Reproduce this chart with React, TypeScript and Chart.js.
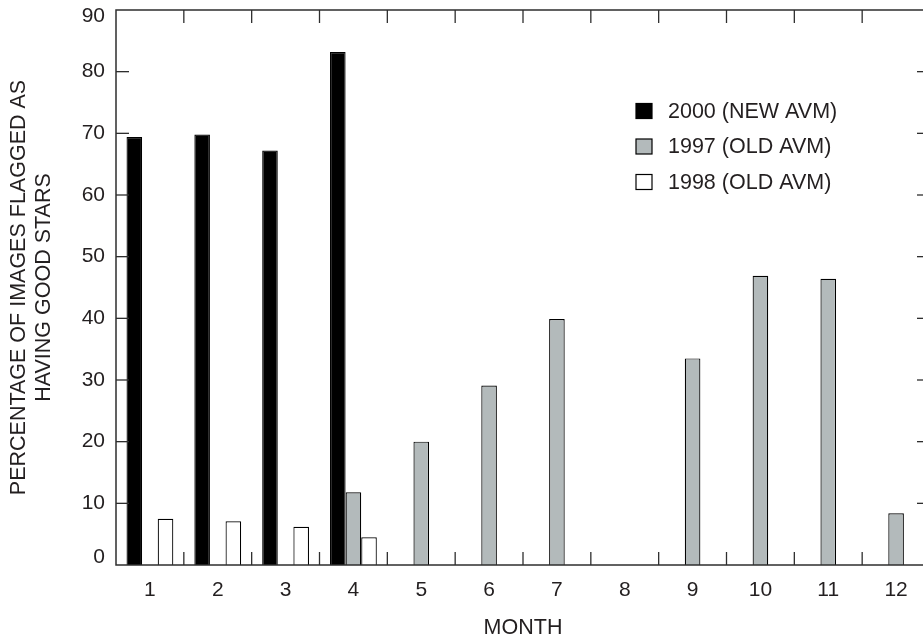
import React, { useEffect, useRef } from 'react';
import { Chart, registerables } from 'chart.js';

Chart.register(...registerables);

// ---- data ----
const MONTHS = ['1', '2', '3', '4', '5', '6', '7', '8', '9', '10', '11', '12'];
const NEW_AVM_2000 = [69.4, 69.8, 67.2, 83.2, null, null, null, null, null, null, null, null];
const OLD_AVM_1997 = [null, null, null, 11.8, 20.0, 29.1, 39.9, null, 33.5, 46.9, 46.4, 8.4];
const OLD_AVM_1998 = [7.5, 7.1, 6.2, 4.5, null, null, null, null, null, null, null, null];
const SERIES_LABELS = ['2000 (NEW AVM)', '1997 (OLD AVM)', '1998 (OLD AVM)'];
const SERIES_COLORS = ['#000000', '#b3babb', '#ffffff'];
const Y_TITLE = ['PERCENTAGE OF IMAGES FLAGGED AS', 'HAVING GOOD STARS'];
const X_TITLE = 'MONTH';
const Y_MIN = 0;
const Y_MAX = 90;
const Y_STEP = 10;

// ---- style ----
const FONT_FAMILY = '"Liberation Sans", Arial, Helvetica, sans-serif';
const FONT_SIZE = 21;
const LEGEND_FONT_SIZE = 21.5;
const TEXT = '#231f20';
const AXIS = '#2e2e2e';
const TICK_LEN = 13;

const framePlugin = {
  id: 'framePlugin',
  afterDatasetsDraw(chart: any) {
    const { ctx, chartArea, scales } = chart;
    const { left, right, top, bottom } = chartArea;
    const x = scales.x;
    const y = scales.y;
    ctx.save();
    ctx.strokeStyle = AXIS;
    ctx.lineWidth = 1.5;
    ctx.strokeRect(left, top, right - left, bottom - top);

    const line = (x1: number, y1: number, x2: number, y2: number) => {
      ctx.beginPath();
      ctx.moveTo(x1, y1);
      ctx.lineTo(x2, y2);
      ctx.stroke();
    };
    ctx.lineWidth = 1.3;
    const n = x.ticks.length;
    for (let i = 1; i < n; i++) {
      const px = (x.getPixelForTick(i - 1) + x.getPixelForTick(i)) / 2;
      line(px, bottom, px, bottom - TICK_LEN);
      line(px, top, px, top + TICK_LEN);
    }
    y.ticks.forEach((t: any) => {
      if (t.value <= y.min || t.value >= y.max) return;
      const py = y.getPixelForValue(t.value);
      line(left, py, left + TICK_LEN, py);
      line(right, py, right - TICK_LEN, py);
    });

    // y tick labels
    ctx.fillStyle = TEXT;
    ctx.font = `${FONT_SIZE}px ${FONT_FAMILY}`;
    ctx.textAlign = 'right';
    ctx.textBaseline = 'middle';
    y.ticks.forEach((t: any) => {
      let py = y.getPixelForValue(t.value);
      py = Math.max(top + 6, Math.min(bottom - 8, py));
      ctx.fillText(String(t.value), left - 11, py);
    });

    // legend inside plot
    const lx = 636;
    const ly0 = 111;
    const gap = 35.5;
    ctx.textAlign = 'left';
    ctx.font = `${LEGEND_FONT_SIZE}px ${FONT_FAMILY}`;
    chart.data.datasets.forEach((ds: any, i: number) => {
      const cy = ly0 + i * gap;
      ctx.fillStyle = ds.backgroundColor;
      ctx.fillRect(lx, cy - 7.5, 16, 15);
      ctx.strokeStyle = '#000';
      ctx.lineWidth = 1.2;
      ctx.strokeRect(lx, cy - 7.5, 16, 15);
      ctx.fillStyle = TEXT;
      ctx.fillText(ds.label, lx + 32, cy + 1);
    });
    ctx.restore();
  },
};

export default function App() {
  const ref = useRef<HTMLCanvasElement | null>(null);
  useEffect(() => {
    if (!ref.current) return;
    Chart.defaults.font.family = FONT_FAMILY;
    const chart = new Chart(ref.current, {
      type: 'bar',
      data: {
        labels: MONTHS,
        datasets: [
          { label: SERIES_LABELS[0], data: NEW_AVM_2000, backgroundColor: SERIES_COLORS[0], borderColor: '#000', borderWidth: 1.2 },
          { label: SERIES_LABELS[1], data: OLD_AVM_1997, backgroundColor: SERIES_COLORS[1], borderColor: '#000', borderWidth: 1.2 },
          { label: SERIES_LABELS[2], data: OLD_AVM_1998, backgroundColor: SERIES_COLORS[2], borderColor: '#000', borderWidth: 1.2 },
        ],
      },
      options: {
        responsive: false,
        animation: false,
        layout: { padding: { left: 0, right: 10, top: 10, bottom: 0 } },
        datasets: { bar: { categoryPercentage: 0.69, barPercentage: 1.0 } },
        plugins: { legend: { display: false }, tooltip: { enabled: false }, title: { display: false } },
        scales: {
          x: {
            type: 'category',
            grid: { display: false },
            border: { display: false },
            ticks: { color: TEXT, font: { size: FONT_SIZE }, padding: 5, maxRotation: 0, autoSkip: false },
            title: { display: true, text: X_TITLE, color: TEXT, font: { size: LEGEND_FONT_SIZE, lineHeight: 1.2 }, padding: { top: 0, bottom: 2 } },
            afterFit: (scale: any) => { scale.height = 78; },
          },
          y: {
            min: Y_MIN,
            max: Y_MAX,
            grid: { display: false },
            border: { display: false },
            ticks: { display: false, stepSize: Y_STEP },
            title: { display: true, text: Y_TITLE, color: TEXT, font: { size: LEGEND_FONT_SIZE, lineHeight: 1.15 }, padding: { top: 7, bottom: 0 } },
            afterFit: (scale: any) => { scale.width = 116; },
          },
        },
      },
      plugins: [framePlugin],
    } as any);
    return () => chart.destroy();
  }, []);

  return (
    <div style={{ position: 'absolute', left: 0, top: 0, width: 923, height: 643, overflow: 'hidden', background: '#fff' }}>
      <canvas ref={ref} width={940} height={643} style={{ display: 'block', width: 940, height: 643 }} />
    </div>
  );
}
